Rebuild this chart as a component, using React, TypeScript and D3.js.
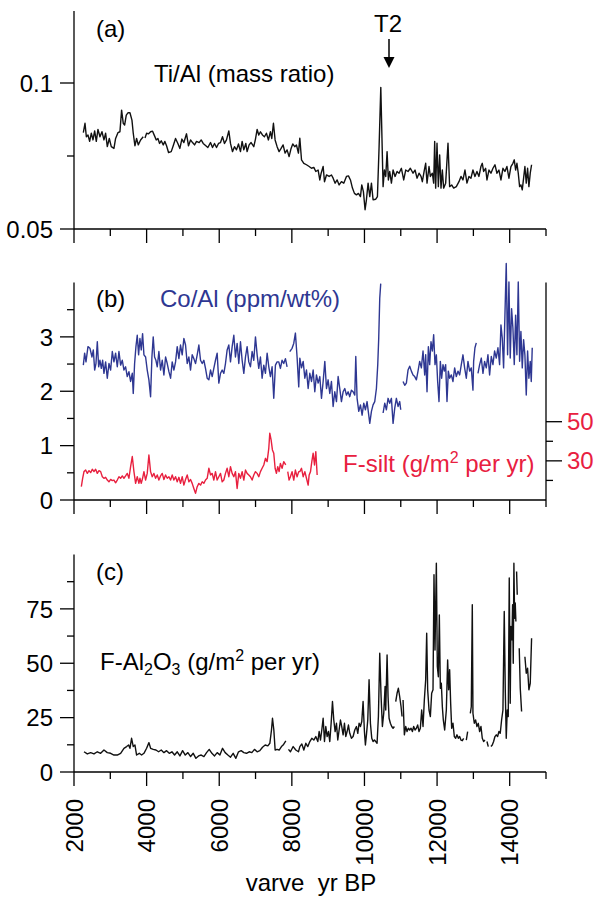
import React from "react";
import * as d3 from "d3";

type P = [number, number | null];

// Panel (a): Ti/Al mass ratio
const tiAl: P[] = [
[2257,.083],[2303,.0862],[2340,.0816],[2385,.0822],[2431,.080],[2477,.0828],[2523,.0805],[2569,.0836],[2614,.080],[2660,.0841],[2715,.0816],[2770,.0833],[2825,.0805],[2871,.0828],[2917,.0782],[2972,.081],[3027,.0782],[3100,.0776],[3146,.081],[3210,.083],[3265,.0833],[3311,.0907],[3357,.0862],[3394,.0856],[3440,.089],[3486,.0898],[3541,.0898],[3596,.0873],[3632,.0828],[3678,.0785],[3724,.081],[3770,.0788],[3834,.0805],[3907,.0816],[3930,null],[3955,.0812],[4000,.0828],[4054,.0826],[4109,.0833],[4164,.0835],[4219,.0819],[4265,.0805],[4311,.081],[4357,.0793],[4403,.0802],[4458,.0788],[4503,.080],[4549,.0785],[4604,.0762],[4678,.0765],[4733,.0785],[4797,.081],[4861,.0793],[4916,.0776],[4971,.0808],[5026,.0796],[5099,.0826],[5154,.0785],[5210,.0805],[5265,.0796],[5320,.0788],[5375,.080],[5448,.0796],[5503,.0805],[5558,.0793],[5631,.0785],[5686,.0779],[5760,.0796],[5815,.0779],[5870,.0793],[5925,.0779],[5980,.0793],[6035,.0796],[6090,.0816],[6145,.0793],[6200,.0805],[6264,.0836],[6310,.0793],[6365,.0765],[6420,.0782],[6475,.0771],[6530,.0791],[6585,.0765],[6631,.080],[6677,.0771],[6732,.0793],[6768,.0765],[6823,.0788],[6878,.0796],[6952,.0782],[6998,.0808],[7044,.0841],[7089,.0822],[7135,.0833],[7190,.0822],[7245,.0816],[7300,.0828],[7355,.0805],[7410,.0833],[7447,.081],[7493,.0862],[7539,.0805],[7594,.0782],[7649,.0765],[7704,.0776],[7759,.0788],[7814,.076],[7869,.0771],[7924,.0748],[7979,.0776],[8025,.0791],[8080,.0782],[8126,.0788],[8181,.076],
[8220,.0811],[8266,.0737],[8330,.0725],[8403,.072],[8477,.0714],[8541,.0708],[8605,.0711],[8660,.0697],[8724,.0702],[8770,.0668],[8807,.0691],[8862,.0714],[8899,.0662],[8954,.0685],[9027,.068],[9091,.0685],[9137,.0674],[9192,.0657],[9247,.0668],[9302,.0651],[9366,.0662],[9430,.0657],[9504,.068],[9559,.0682],[9614,.0668],[9669,.064],[9724,.0622],[9779,.0617],[9834,.0622],[9889,.0611],[9926,.0651],[9971,.0628],[10017,.0566],[10054,.06],[10100,.0657],[10146,.0611],[10192,.0657],[10237,.06],[10311,.0602],[10357,.0611],[10403,.0782],[10450,.0985],[10513,.0645],[10549,.0702],[10586,.068],[10623,.0765],[10659,.0668],[10696,.0697],[10742,.0657],[10788,.0702],[10843,.068],[10898,.0697],[10953,.0691],[11017,.0708],[11081,.0668],[11136,.0702],[11200,.0697],[11264,.0708],[11338,.0691],[11393,.0702],[11448,.0674],[11503,.0691],[11558,.068],[11594,.0662],[11649,.0702],[11686,.0725],[11723,.0657],[11778,.0714],[11815,.068],[11870,.0691],[11906,.0657],[11934,.080],[11961,.064],[11998,.0794],[12035,.0645],[12071,.0754],[12108,.064],[12145,.0702],[12181,.064],[12236,.0657],[12301,.0794],[12346,.0645],[12402,.0651],[12457,.064],[12530,.0645],[12603,.0662],[12658,.068],[12713,.0668],[12768,.0702],[12823,.0657],[12878,.068],[12933,.0674],[12988,.0702],[13043,.068],[13098,.0697],[13153,.068],[13208,.0714],[13245,.0725],[13282,.0697],[13337,.0708],[13374,.0668],[13429,.0702],[13484,.0691],[13539,.0708],[13594,.072],[13649,.0691],[13704,.0702],[13759,.0668],[13814,.0708],[13869,.0697],[13924,.0714],[13979,.0674],[14034,.0714],[14089,.0725],[14126,.0737],[14163,.0702],[14199,.0725],[14236,.0691],[14273,.0645],[14309,.0651],[14346,.0634],[14383,.0674],[14419,.0714],[14456,.0657],[14493,.0708],[14529,.0645],[14566,.0691],[14603,.072]
];

// Panel (b): Co/Al (ppm/wt%)
const coAl: P[] = [
[2257,2.48],[2293,2.7],[2330,2.54],[2385,2.82],[2440,2.79],[2495,2.63],[2532,2.76],[2569,2.39],[2605,2.51],[2642,2.91],[2679,2.45],[2715,2.57],[2752,2.42],[2789,2.57],[2825,2.33],[2871,2.54],[2917,2.24],[2963,2.51],[3009,2.39],[3055,2.73],[3100,2.54],[3146,2.7],[3192,2.45],[3238,2.73],[3284,2.48],[3330,2.57],[3376,2.39],[3421,2.45],[3467,2.27],[3513,2.36],[3559,2.18],[3605,2.33],[3632,1.96],[3669,2.51],[3706,2.82],[3742,3.03],[3779,2.67],[3816,2.97],[3852,2.76],[3889,3.06],[3926,2.67],[3972,2.63],[4017,2.39],[4063,2.21],[4109,1.9],[4146,2.63],[4182,3.0],[4219,2.63],[4256,2.57],[4293,2.45],[4338,2.73],[4384,2.39],[4430,2.57],[4476,2.3],[4522,2.63],[4568,2.51],[4614,2.36],[4660,2.24],[4705,2.54],[4751,2.39],[4797,2.54],[4843,2.82],[4889,2.6],[4934,2.85],[4980,2.67],[5026,2.97],[5072,2.85],[5118,2.51],[5164,2.63],[5210,2.39],[5255,2.67],[5301,2.6],[5347,2.51],[5393,2.67],[5439,2.85],[5485,2.57],[5531,2.51],[5576,2.57],[5622,2.42],[5668,2.24],[5714,2.21],[5760,2.39],[5806,2.27],[5851,2.42],[5897,2.57],[5943,2.7],[5989,2.15],[6035,2.33],[6081,2.39],[6127,2.33],[6172,2.51],[6218,2.76],[6264,2.85],[6310,2.54],[6356,2.82],[6402,3.03],[6447,2.63],[6493,2.88],[6539,2.51],[6585,2.91],[6631,2.57],[6677,2.33],[6723,2.63],[6768,2.82],[6814,2.54],[6860,2.45],[6906,2.73],[6952,2.57],[6998,3.0],[7044,2.67],[7089,2.42],[7135,2.63],[7181,2.24],[7227,2.48],[7273,2.33],[7319,2.7],[7365,2.45],[7410,2.27],[7456,2.45],[7502,1.87],[7548,2.48],[7594,2.54],[7640,2.54],[7685,2.42],[7731,2.57],[7777,2.51],[7823,2.6],[7869,2.45],[7905,null],[7942,2.73],[8006,2.79],[8052,2.88],[8098,3.07],[8144,2.63],[8190,2.08],
[8220,2.61],[8266,2.43],[8312,2.55],[8358,2.24],[8403,2.39],[8449,2.05],[8495,2.33],[8541,2.18],[8587,2.39],[8632,1.99],[8678,2.3],[8724,2.15],[8770,2.27],[8816,1.87],[8862,2.18],[8908,2.55],[8954,2.05],[8999,2.21],[9045,1.96],[9091,2.18],[9137,1.72],[9183,1.99],[9229,1.81],[9275,2.27],[9320,2.05],[9366,1.81],[9412,1.99],[9458,2.05],[9504,1.93],[9550,1.99],[9595,1.9],[9641,2.02],[9687,1.99],[9733,1.93],[9761,2.64],[9797,1.87],[9843,1.63],[9889,1.75],[9935,1.56],[9981,1.78],[10026,1.66],[10072,1.81],[10118,1.56],[10146,1.41],[10192,1.63],[10237,1.75],[10283,1.81],[10329,2.05],[10366,2.49],[10393,2.98],[10421,3.71],[10448,3.98],[10480,null],
[10513,1.6],[10559,1.78],[10604,1.66],[10650,1.87],[10696,1.78],[10742,1.87],[10788,1.41],[10834,1.69],[10879,1.87],[10925,1.72],[10971,1.81],[10999,1.66],[11030,null],
[11063,2.18],[11109,2.11],[11154,2.15],[11200,2.39],[11246,2.46],[11292,2.37],[11338,2.3],[11384,2.27],[11430,2.21],[11475,2.37],[11521,2.55],[11567,2.43],[11613,2.74],[11659,2.3],[11686,2.67],[11723,1.99],[11760,2.82],[11796,2.49],[11833,2.91],[11870,2.74],[11906,3.04],[11943,2.49],[11980,2.67],[12016,2.18],[12053,1.81],[12090,2.55],[12126,2.24],[12163,2.49],[12200,2.37],[12236,2.49],[12273,1.81],[12310,2.37],[12346,2.24],[12392,2.3],[12438,2.18],[12484,2.43],[12530,2.27],[12576,2.37],[12622,2.3],[12667,2.49],[12713,2.67],[12759,2.43],[12805,2.24],[12851,2.55],[12897,2.37],[12942,2.43],[12988,2.02],[13007,2.55],[13043,2.8],[13080,2.89],[13100,null],
[13126,2.33],[13172,2.49],[13218,2.61],[13264,2.33],[13309,2.55],[13355,2.43],[13401,2.67],[13447,2.3],[13493,2.64],[13539,2.49],[13584,2.74],[13630,2.61],[13676,2.8],[13722,2.49],[13759,3.22],[13795,2.98],[13832,2.43],[13869,3.4],[13905,4.35],[13942,2.67],[13979,4.01],[14015,2.61],[14052,3.52],[14089,3.16],[14126,2.49],[14163,3.4],[14199,2.67],[14236,4.01],[14273,2.55],[14309,3.1],[14346,2.43],[14383,2.95],[14419,2.67],[14456,1.93],[14493,2.74],[14529,2.24],[14566,2.55],[14594,2.18],[14621,2.8]
];

// Panel (b): F-silt (g/m2 per yr), right axis
const fSilt: P[] = [
[2202,16.8],[2238,21.1],[2275,24.5],[2321,25.3],[2367,23.6],[2413,25],[2459,24],[2504,25.7],[2550,24.5],[2596,25.7],[2642,23.6],[2688,25],[2734,24.5],[2780,21.9],[2825,21.1],[2871,21.6],[2917,20.2],[2963,19.3],[3009,20.5],[3055,19.9],[3100,20.2],[3146,18.8],[3192,20.2],[3238,21.9],[3284,21.1],[3330,22.3],[3376,21.1],[3421,22.3],[3467,23.6],[3513,21.1],[3559,27],[3605,32.2],[3651,24.5],[3697,18.5],[3742,21.9],[3788,18.5],[3816,21.1],[3852,18.5],[3889,21.1],[3926,24.5],[3972,20.2],[4017,23.6],[4063,33],[4109,24.5],[4155,21.9],[4201,23.6],[4247,21.1],[4293,22.8],[4338,20.2],[4384,22.3],[4430,23.6],[4476,20.5],[4522,22.8],[4568,21.1],[4614,21.9],[4660,20.2],[4705,22.8],[4751,20.2],[4797,21.9],[4843,19.3],[4889,21.6],[4934,18.5],[4980,21.9],[5026,17.6],[5072,20.5],[5118,22.8],[5164,19.3],[5210,20.5],[5255,18.5],[5301,15.9],[5347,13.4],[5393,16.8],[5439,18.5],[5485,17.6],[5531,19.3],[5576,18.5],[5622,20.2],[5668,21.1],[5714,26.2],[5760,22.8],[5806,23.6],[5851,20.2],[5897,24.5],[5943,20.2],[5989,21.9],[6035,23.6],[6081,19.3],[6127,20.2],[6172,23.6],[6218,26.2],[6264,21.9],[6310,27],[6356,23.6],[6402,21.9],[6447,24.5],[6493,15.9],[6539,23.6],[6585,21.1],[6631,24.5],[6677,20.2],[6723,25.3],[6768,23.6],[6814,22.8],[6860,21.9],[6906,20.2],[6952,22.8],[6998,24.5],[7044,23.6],[7089,21.9],[7135,24.5],[7181,26.2],[7227,27.9],[7273,31.3],[7319,29.6],[7365,36.4],[7392,44.1],[7429,40.7],[7465,35.6],[7502,33.9],[7539,26.2],[7575,23.6],[7612,27],[7649,24.5],[7685,28.7],[7731,26.2],[7777,29.6],[7832,27.9],[7860,null],
[7887,24.5],[7924,20.2],[7961,21.9],[8006,24.5],[8052,20.2],[8098,25.3],[8144,21.9],[8190,24.5],[8220,24.5],[8266,26.2],[8312,21.9],[8358,24.5],[8403,21.1],[8449,17.6],[8477,22.8],[8514,24.5],[8550,29.6],[8587,33.9],[8624,27.9],[8660,34.7],[8697,22.8]
];

// Panel (c): F-Al2O3 (g/m2 per yr)
const fAl2O3: P[] = [
[2275,9.3],[2367,8.3],[2459,8.9],[2550,8.3],[2642,9.3],[2734,8.6],[2825,10.1],[2917,8.9],[3009,8.6],[3100,7.8],[3192,7.8],[3284,8.6],[3376,10.9],[3449,11.7],[3504,12.4],[3541,10.9],[3586,15.5],[3632,11.7],[3679,12.4],[3724,7.8],[3798,8.6],[3862,7.8],[3926,8.6],[4000,10.9],[4064,13.5],[4110,10.9],[4183,10.4],[4257,10.1],[4330,9.3],[4403,10.1],[4477,8.9],[4550,9.8],[4624,8.6],[4697,9.3],[4770,7.8],[4844,9.3],[4917,7.4],[4991,9.8],[5064,7.8],[5137,8.9],[5211,7.1],[5284,8.6],[5358,6.3],[5431,7.4],[5504,7.8],[5578,7.1],[5651,8.9],[5724,10.4],[5798,8.6],[5871,7.4],[5944,8.9],[6018,7.8],[6091,10.9],[6164,8.9],[6238,7.8],[6311,6.8],[6384,8.6],[6458,6.3],[6531,9.3],[6604,9.8],[6678,8.9],[6751,8.6],[6825,9.3],[6898,8.9],[6971,10.4],[7045,9.3],[7118,9.8],[7192,11.4],[7265,12.4],[7339,12],[7394,13.2],[7439,19.3],[7467,24.7],[7504,19.3],[7540,10.1],[7595,10.4],[7650,10.1],[7714,11.7],[7760,12.4],[7834,14.3],[7870,null],
[7907,10.4],[7962,9.3],[8036,11.7],[8109,10.1],[8183,9.3],[8220,11.7],[8275,12.9],[8330,10.1],[8385,13.2],[8440,11.7],[8495,14],[8550,15.5],[8605,14.7],[8660,16.3],[8715,14],[8752,18.6],[8789,14.7],[8825,19.3],[8862,24.7],[8899,14],[8935,20.9],[8972,16.3],[9009,18.6],[9045,14],[9082,22.4],[9119,32.4],[9155,23.9],[9192,18.6],[9229,22.4],[9265,14.7],[9302,19.3],[9339,23.9],[9375,20.9],[9412,17.1],[9449,22.4],[9485,16.3],[9522,18.6],[9559,21.6],[9595,17.8],[9641,15.5],[9687,16.3],[9733,19.3],[9779,20.9],[9816,17.8],[9852,22.4],[9889,20.9],[9926,23.2],[9962,32.4],[9999,18.6],[10026,12.4],[10054,17.1],[10091,23.9],[10127,42.4],[10164,22.4],[10201,15.5],[10237,14],[10274,14.7],[10311,14],[10347,13.2],[10384,25.5],[10421,54.6],[10458,34.6],[10494,20.9],[10531,27],[10568,39.3],[10586,28.5],[10623,53.8],[10650,34.6],[10678,24.7],[10714,22.4],[10751,20.9],[10788,20.1],[10824,20.9],[10842,null],
[10861,32.4],[10898,36.2],[10934,38.5],[10971,34.6],[11008,30],[11035,25.5],[11050,null],
[11063,33.1],[11099,17.1],[11136,20.9],[11173,18.6],[11209,20.1],[11246,19.3],[11283,20.1],[11320,18.6],[11356,20.9],[11393,19.3],[11430,20.1],[11466,21.6],[11503,18.6],[11539,20.1],[11576,28.5],[11613,20.9],[11649,33.1],[11686,42.4],[11714,63.8],[11741,37.8],[11778,28.5],[11815,25.5],[11851,36.2],[11888,37.8],[11915,90.7],[11943,56.1],[11980,96],[12007,48.5],[12035,43.8],[12062,72.2],[12090,38.5],[12117,40.8],[12145,30],[12172,23.9],[12209,19.3],[12255,28.5],[12291,51.5],[12319,37.8],[12346,47],[12374,31.6],[12402,20.1],[12438,22.4],[12475,16.3],[12512,15.5],[12548,17.1],[12585,15.5],[12622,16.3],[12658,14.7],[12695,14.4],[12732,15.5],[12770,null],
[12805,14.7],[12842,18.6],[12880,null],
[12915,27],[12942,30],[12970,76.9],[12988,27],[13025,22.4],[13062,23.9],[13098,20.9],[13135,22.4],[13172,18.6],[13209,20.9],[13245,15.5],[13282,14],[13319,14.7],[13345,null],
[13374,14],[13410,11.7],[13445,null],
[13484,11.7],[13520,12.4],[13557,14],[13594,16.3],[13630,17.1],[13667,16.3],[13704,18.6],[13740,17.8],[13777,23.9],[13814,28.5],[13850,73.8],[13878,37.8],[13905,15.5],[13933,28.5],[13960,25.5],[13988,89.2],[14015,31.6],[14034,66.9],[14061,60.8],[14080,76.9],[14098,50],[14116,96],[14135,70.7],[14153,77.7],[14171,69.2],[14180,null],
[14190,92.2],[14208,81.5],[14235,null],
[14263,56.9],[14291,38.5],[14328,27.8],[14370,null],
[14419,53],[14456,45.4],[14493,47.7],[14529,37.8],[14566,40.8],[14603,61.5]
];

const xMajor = [2000, 4000, 6000, 8000, 10000, 12000, 14000];
const xMinor = [3000, 5000, 7000, 9000, 11000, 13000, 15000];
const aMajor = [0.05, 0.1];
const aMinor = [0.075];
const bMajor = [0, 1, 2, 3];
const bMinor = [0.5, 1.5, 2.5, 3.5];
const bRightMajor = [30, 50];
const bRightMinor = [20, 40];
const cMajor = [0, 25, 50, 75];
const cMinor = [12.5, 37.5, 62.5, 87.5];

const BLUE = "#2e3792";
const RED = "#e8203f";
const FONT = "'Liberation Sans', Arial, Helvetica, sans-serif";
const FS = 24;
const LW = 1.4;

export default function App() {
  const x = d3.scaleLinear().domain([2000, 15000]).range([74, 546]);
  const ya = d3.scaleLinear().domain([0.05, 0.1]).range([229, 83]);
  const yb = d3.scaleLinear().domain([0, 4]).range([500, 282.5]);
  const ybr = d3.scaleLinear().domain([10, 50]).range([500, 421.7]);
  const yc = d3.scaleLinear().domain([0, 100]).range([772, 554.5]);

  const mk = (ys: d3.ScaleLinear<number, number>) =>
    d3.line<P>().defined((d) => d[1] !== null).x((d) => x(d[0])).y((d) => ys(d[1] as number));

  const bottomAxis = (y0: number) => (
    <g>
      <line x1={74} x2={546} y1={y0} y2={y0} stroke="#000" strokeWidth={1.3} />
      {xMajor.map((t) => (
        <line key={"M" + t} x1={x(t)} x2={x(t)} y1={y0} y2={y0 + 14} stroke="#000" strokeWidth={1.3} />
      ))}
      {xMinor.map((t) => (
        <line key={"m" + t} x1={x(t)} x2={x(t)} y1={y0} y2={y0 + 7} stroke="#000" strokeWidth={1.3} />
      ))}
    </g>
  );

  const leftAxis = (
    ys: d3.ScaleLinear<number, number>,
    top: number,
    bottom: number,
    major: number[],
    minor: number[],
    fmt: (v: number) => string
  ) => (
    <g>
      <line x1={74} x2={74} y1={top} y2={bottom} stroke="#000" strokeWidth={1.3} />
      {major.map((t) => (
        <g key={"M" + t}>
          <line x1={60} x2={74} y1={ys(t)} y2={ys(t)} stroke="#000" strokeWidth={1.3} />
          <text x={53} y={ys(t)} dy="0.36em" textAnchor="end" fontSize={FS}>
            {fmt(t)}
          </text>
        </g>
      ))}
      {minor.map((t) => (
        <line key={"m" + t} x1={67} x2={74} y1={ys(t)} y2={ys(t)} stroke="#000" strokeWidth={1.3} />
      ))}
    </g>
  );

  return (
    <svg
      width={595}
      height={898}
      style={{ position: "absolute", left: 0, top: 0, background: "#fff" }}
      fontFamily={FONT}
    >
      {/* Panel a */}
      {leftAxis(ya, 11, 229, aMajor, aMinor, (v) => String(v))}
      {bottomAxis(229)}
      <path d={mk(ya)(tiAl) || ""} fill="none" stroke="#111" strokeWidth={LW} strokeLinejoin="round" />
      <text x={96} y={37} fontSize={FS}>(a)</text>
      <text x={154} y={82} fontSize={FS}>Ti/Al (mass ratio)</text>
      <text x={374} y={32} fontSize={FS}>T2</text>
      <line x1={389} x2={389} y1={39} y2={60} stroke="#000" strokeWidth={1.5} />
      <path d="M383.5,57 L394.5,57 L389,68 Z" fill="#000" />

      {/* Panel b */}
      {leftAxis(yb, 282.5, 500, bMajor, bMinor, (v) => String(v))}
      {bottomAxis(500)}
      <line x1={546} x2={546} y1={282.5} y2={500} stroke="#000" strokeWidth={1.3} />
      {bRightMajor.map((t) => (
        <g key={"r" + t}>
          <line x1={546} x2={562} y1={ybr(t)} y2={ybr(t)} stroke="#000" strokeWidth={1.3} />
          <text x={567} y={ybr(t)} dy="0.36em" fontSize={FS} fill={RED}>{t}</text>
        </g>
      ))}
      {bRightMinor.map((t) => (
        <line key={"rm" + t} x1={546} x2={553} y1={ybr(t)} y2={ybr(t)} stroke="#000" strokeWidth={1.3} />
      ))}
      <path d={mk(yb)(coAl) || ""} fill="none" stroke={BLUE} strokeWidth={LW} strokeLinejoin="round" />
      <path d={mk(ybr)(fSilt) || ""} fill="none" stroke={RED} strokeWidth={LW} strokeLinejoin="round" />
      <text x={96} y={307} fontSize={FS}>(b)</text>
      <text x={160} y={307} fontSize={FS} fill={BLUE}>Co/Al (ppm/wt%)</text>
      <text x={343} y={472} fontSize={FS} fill={RED}>
        F-silt (g/m<tspan fontSize={16} dy={-9}>2</tspan>
        <tspan dy={9}> per yr)</tspan>
      </text>

      {/* Panel c */}
      {leftAxis(yc, 554.5, 772, cMajor, cMinor, (v) => String(v))}
      {bottomAxis(772)}
      <path d={mk(yc)(fAl2O3) || ""} fill="none" stroke="#111" strokeWidth={LW} strokeLinejoin="round" />
      <text x={96} y={580} fontSize={FS}>(c)</text>
      <text x={100} y={670} fontSize={FS}>
        F-Al<tspan fontSize={16} dy={5}>2</tspan>
        <tspan dy={-5}>O</tspan>
        <tspan fontSize={16} dy={5}>3</tspan>
        <tspan dy={-5}> (g/m</tspan>
        <tspan fontSize={16} dy={-9}>2</tspan>
        <tspan dy={9}> per yr)</tspan>
      </text>

      {/* x tick labels */}
      {xMajor.map((t) => (
        <text
          key={"xl" + t}
          transform={`translate(${x(t) + 8.5},799) rotate(-90)`}
          textAnchor="end"
          fontSize={FS}
        >
          {t}
        </text>
      ))}
      <text x={311} y={891} textAnchor="middle" fontSize={FS}>
        varve{"\u00a0\u00a0"}yr BP
      </text>
    </svg>
  );
}
